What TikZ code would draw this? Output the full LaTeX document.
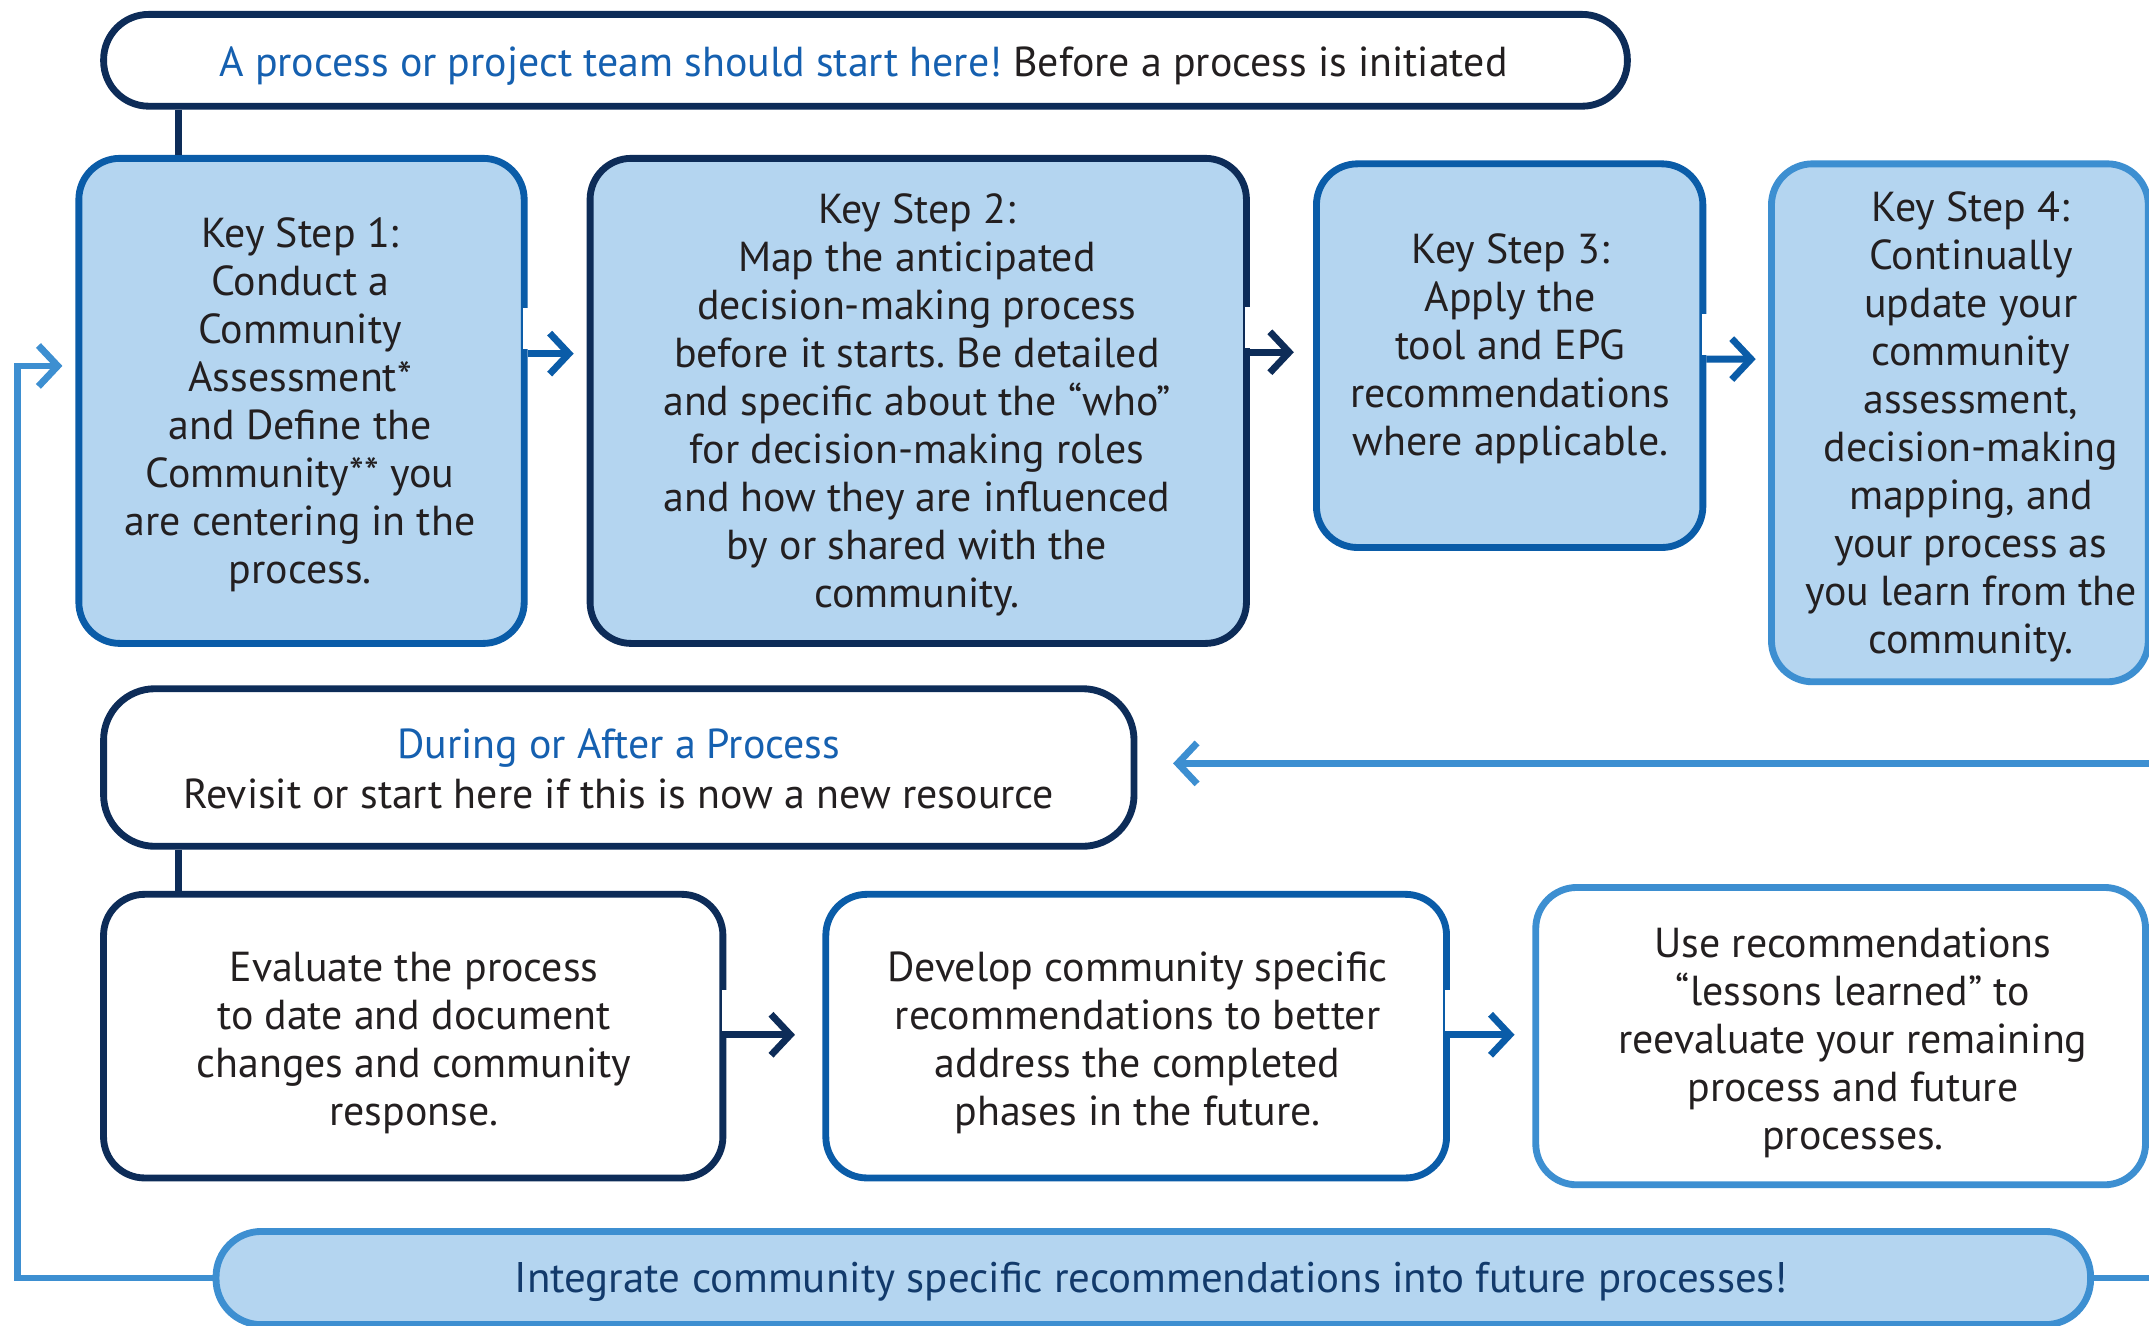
\documentclass[tikz,border=0pt]{standalone}
\usepackage{fontspec}
\setmainfont{PT Sans}
\usetikzlibrary{arrows.meta,calc}
\frenchspacing
\definecolor{navy}{HTML}{0D2C58}
\definecolor{mblue}{HTML}{0A5CA8}
\definecolor{lblue}{HTML}{3D8FD1}
\definecolor{lfill}{HTML}{B4D5F0}
\definecolor{tblue}{HTML}{1560B0}
\definecolor{btext}{HTML}{123A6B}
\definecolor{ink}{HTML}{231F20}
\tikzset{
  every node/.style={font=\fontsize{17.4pt}{19.92pt}\selectfont\frenchspacing, text=ink},
  kbox/.style={draw, line width=0.1cm, rounded corners=0.6cm, fill=lfill, inner sep=0pt},
  wbox/.style={draw, line width=0.1cm, rounded corners=0.6cm, fill=white, inner sep=0pt},
  pill/.style={draw, line width=0.1cm, inner sep=0pt},
  txt/.style={align=center, inner sep=0pt},
  conn/.style={line width=0.1cm},
  arr/.style={line width=0.1cm, -{Straight Barb[length=8pt,width=17pt]}},
  gapcut/.style={white, line width=0.14cm},
}
\begin{document}
\begin{tikzpicture}[x=0.02cm, y=-0.02cm]
\useasboundingbox (0,0) rectangle (1568,967);
\clip (0,0) rectangle (1568,967);
\fill[white] (0,0) rectangle (1568,967);

% boxes
\node[pill, draw=navy, fill=white, rounded corners=0.66cm, minimum width=22.24cm, minimum height=1.34cm] (top) at (631.5,44) {};
\node[kbox, draw=mblue, minimum width=6.5cm, minimum height=7.08cm] (k1) at (220,292.5) {};
\node[kbox, draw=navy, minimum width=9.58cm, minimum height=7.08cm] (k2) at (670,292.5) {};
\node[kbox, draw=mblue, minimum width=5.64cm, minimum height=5.6cm] (k3) at (1101.5,259.5) {};
\node[kbox, draw=lblue, minimum width=5.5cm, minimum height=7.56cm] (k4) at (1430,308.5) {};
\node[pill, draw=navy, fill=white, rounded corners=0.75cm, minimum width=15.04cm, minimum height=2.3cm] (mid) at (451.5,560) {};
\node[wbox, draw=navy, minimum width=9.04cm, minimum height=4.14cm] (ev) at (301.5,756) {};
\node[wbox, draw=mblue, minimum width=9.06cm, minimum height=4.14cm] (dev) at (829,756) {};
\node[wbox, draw=lblue, minimum width=8.9cm, minimum height=4.34cm] (use) at (1343,756) {};
\node[pill, draw=lblue, fill=lfill, rounded corners=0.66cm, minimum width=27.36cm, minimum height=1.36cm] (bot) at (841.5,932.5) {};

% texts
\node[txt] (topt) at (630,48)
  {{\color{tblue}A process or project team should start here!} Before a process is initiated};
\node[txt] (k1t) at (219,295.5)
  {Key Step 1:\\Conduct a\\Community\\Assessment*\\and Define the\\Community** you\\are centering in the\\process.};
\node[txt] (k2t) at (669,295.5)
  {Key Step 2:\\Map the anticipated\\decision-making process\\before it starts. Be detailed\\and specific about the “who”\\for decision-making roles\\and how they are influenced\\by or shared with the\\community.};
\node[txt] (k3t) at (1102,254.5)
  {Key Step 3:\\Apply the\\tool and EPG\\recommendations\\where applicable.};
\node[txt] (k4t) at (1438,311.5)
  {Key Step 4:\\Continually\\update your\\community\\assessment,\\decision-making\\mapping, and\\your process as\\you learn from the\\community.};
\node[txt, font=\fontsize{17.4pt}{20.5pt}\selectfont] (midt) at (451.5,561)
  {{\color{tblue}During or After a Process}\\Revisit or start here if this is now a new resource};
\node[txt] (evt) at (302,761)
  {Evaluate the process\\to date and document\\changes and community\\response.};
\node[txt] (devt) at (830,761)
  {Develop community specific\\recommendations to better\\address the completed\\phases in the future.};
\node[txt] (uset) at (1352,761)
  {Use recommendations\\“lessons learned” to\\reevaluate your remaining\\process and future\\processes.};
\node[txt, font=\fontsize{17.8pt}{19.92pt}\selectfont] (bott) at (840,935)
  {\color{btext}Integrate community specific recommendations into future processes!};

% helper coordinates
\coordinate (c1) at (130,0);
\coordinate (lp) at (13,0);
\coordinate (rb) at (1568,557);
\coordinate (rr) at (1568,932.5);
\coordinate (ain) at ($(k1.west)+(-9.5,-25.5)$);

% vertical connectors
\draw[conn, navy] (top.south -| c1) -- (k1.north -| c1);
\draw[conn, navy] (mid.south -| c1) -- (ev.north -| c1);

% gaps in right borders
\draw[gapcut] ($(k1.east)+(0,-67.5)$) -- ($(k1.east)+(0,-37.5)$);
\draw[gapcut] ($(k2.east)+(0,-68.5)$) -- ($(k2.east)+(0,-38.5)$);
\draw[gapcut] ($(k3.east)+(0,-30.5)$) -- ($(k3.east)+(0,-0.5)$);
\draw[gapcut] ($(ev.east)+(0,-34)$) -- ($(ev.east)+(0,-4)$);
\draw[gapcut] ($(dev.east)+(0,-34)$) -- ($(dev.east)+(0,-4)$);

% arrows between steps
\draw[arr, mblue] ($(k1.east)+(0,-34.5)$) -- ($(k2.west)+(-9.5,-34.5)$);
\draw[arr, navy] ($(k2.east)+(0,-35.5)$) -- ($(k3.west)+(-14,-2.5)$);
\draw[arr, mblue] ($(k3.east)+(0,2.5)$) -- ($(k4.west)+(-9,-46.5)$);
\draw[arr, navy] ($(ev.east)+(0,-1)$) -- ($(dev.west)+(-20,-1)$);
\draw[arr, mblue] ($(dev.east)+(0,-1)$) -- ($(use.west)+(-13,-1)$);

% return arrow to "During or After"
\draw[arr, lblue] (rb) -- ($(mid.east |- rb)+(26,0)$);

% loop back to key step 1
\draw[arr, lblue] (bot.west) -- (bot.west -| lp) -- (lp |- ain) -- (ain);
\draw[conn, lblue] (bot.east) -- (rr);
\end{tikzpicture}
\end{document}
